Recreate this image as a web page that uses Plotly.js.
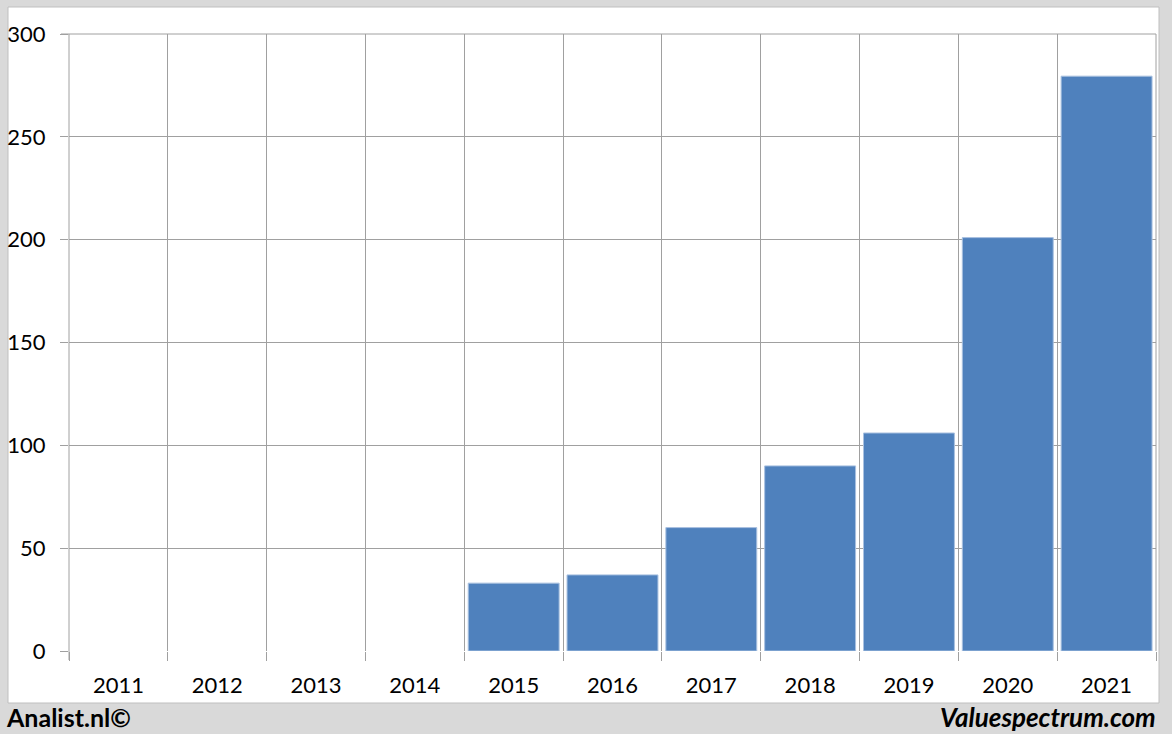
<!DOCTYPE html>
<html>
<head>
<meta charset="utf-8">
<script src="https://cdn.plot.ly/plotly-3.0.1.min.js"></script>
<style>html,body{margin:0;padding:0;background:#d9d9d9;}#chart{width:1172px;height:734px;}</style>
</head>
<body>
<div id="chart"></div>
<script>
const years = ['2011','2012','2013','2014','2015','2016','2017','2018','2019','2020','2021'];
const values = [null, null, null, null, 33, 37, 60, 90, 106, 201, 279.5];
const yTicks = [0, 50, 100, 150, 200, 250, 300];

const W = 1172, H = 734;
const L = 69, R = 1156, T = 34, B = 651;
const px = x => (x - L) / (R - L);
const py = y => (B - y) / (B - T);

const trace = {
  type: 'bar',
  x: years,
  y: values,
  marker: { color: '#4f81bd', line: { color: '#a9c1e0', width: 1 } },
  hoverinfo: 'skip'
};

const gridCol = '#a0a0a0';

const layout = {
  width: W, height: H,
  margin: { l: L, r: W - R, t: T, b: H - B, pad: 0 },
  paper_bgcolor: '#d9d9d9',
  plot_bgcolor: '#ffffff',
  bargap: 0.08,
  showlegend: false,
  font: { family: 'Lato, "Open Sans", sans-serif', color: '#000000' },
  xaxis: {
    type: 'category',
    tickson: 'boundaries',
    showgrid: true,
    gridcolor: gridCol,
    gridwidth: 1,
    ticks: 'outside',
    ticklen: 9,
    tickcolor: gridCol,
    tickfont: { size: 22, family: 'Lato, sans-serif', color: '#000' },
    ticklabelstandoff: 19,
    showline: false,
    zeroline: false,
    fixedrange: true
  },
  yaxis: {
    range: [0, 300],
    tickvals: yTicks,
    ticktext: yTicks.map(String),
    showgrid: true,
    gridcolor: gridCol,
    gridwidth: 1,
    ticks: 'outside',
    ticklen: 8,
    tickcolor: gridCol,
    tickfont: { size: 22, family: 'Lato, sans-serif', color: '#000' },
    ticklabelstandoff: 10,
    showline: false,
    zeroline: false,
    fixedrange: true
  },
  shapes: [
    { type: 'rect', xref: 'paper', yref: 'paper', layer: 'below',
      x0: px(8), x1: px(1159), y0: py(703), y1: py(7),
      fillcolor: '#ffffff', line: { color: '#bfbfbf', width: 1 } },
    { type: 'line', xref: 'paper', yref: 'paper', layer: 'below',
      x0: 1, x1: 1, y0: 0, y1: 1, line: { color: gridCol, width: 1 } },
    { type: 'line', xref: 'paper', yref: 'paper', layer: 'below',
      x0: 0, x1: 0, y0: py(660), y1: 1, line: { color: gridCol, width: 1 } },
    { type: 'line', xref: 'paper', yref: 'paper', layer: 'below',
      x0: px(61), x1: 1, y0: 1, y1: 1, line: { color: gridCol, width: 1 } }
  ],
  annotations: [
    { xref: 'paper', yref: 'paper', x: px(4), y: py(717), xanchor: 'left', yanchor: 'middle',
      text: '<b>Analist.nl©</b>', showarrow: false,
      font: { size: 25, family: 'Lato, sans-serif', color: '#000' } },
    { xref: 'paper', yref: 'paper', x: px(1158), y: py(717), xanchor: 'right', yanchor: 'middle',
      text: '<b><i>Valuespectrum.com</i></b>', showarrow: false,
      font: { size: 26, family: 'Lato, sans-serif', color: '#000' } }
  ]
};

Plotly.newPlot('chart', [trace], layout, { displayModeBar: false, staticPlot: true });
</script>
</body>
</html>
